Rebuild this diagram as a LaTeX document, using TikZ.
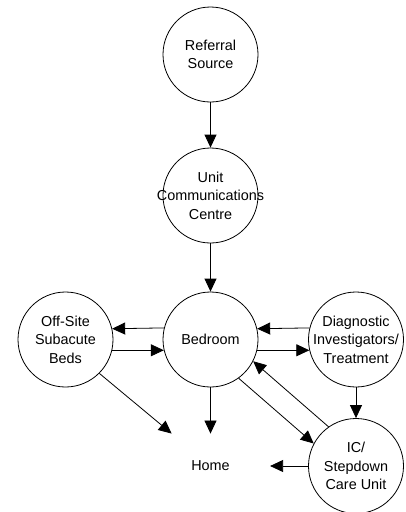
\documentclass[tikz,border=0pt]{standalone}
\usepackage{fontspec}
\setmainfont{Liberation Sans}
\usetikzlibrary{arrows.meta}

\begin{document}
\begin{tikzpicture}[x=1pt, y=-1pt, line width=0.8pt,
    every node/.style={font=\fontsize{14.4}{18.5}\selectfont},
    every label/.style={align=center},
    state/.style={draw, circle, minimum size=95pt, inner sep=0pt},
    arrow/.style={-{Triangle[length=13pt, width=12pt]}}]
      \useasboundingbox (0,0) rectangle (405,512);
      \node[state, label=center:{Referral\\Source}] (referral) at (210.5,54.5) {};
      \node[state, label=center:{Unit\\Communications\\Centre}] (unit) at (210.5,195.5) {};
      \node[state, label=center:{Bedroom}] (bedroom) at (210.5,339.5) {};
      \node[state, label=center:{Off-Site\\Subacute\\Beds}] (offsite) at (65.5,339.5) {};
      \node[state, label=center:{Diagnostic\\Investigators/\\Treatment}] (diagnostic) at (356,339.5) {};
      \node[state, label=center:{IC/\\Stepdown\\Care Unit}] (ic) at (356,466) {};
      \node[inner xsep=40pt, inner ysep=27pt] (home) at (210.5,466) {Home};
      \draw[arrow] (referral) -- (unit);
      \draw[arrow] (unit) -- (bedroom);
      \draw[arrow] (bedroom.166.6) -- (offsite.13.4);
      \draw[arrow] (offsite.-13.4) -- (bedroom.193.4);
      \draw[arrow] (diagnostic.166.6) -- (bedroom.13.4);
      \draw[arrow] (bedroom.-13.4) -- (diagnostic.193.4);
      \draw[arrow] (diagnostic) -- (ic);
      \draw[arrow] (bedroom.-54.3) -- (ic.152.4);
      \draw[arrow] (ic.125.7) -- (bedroom.-27.6);
      \draw[arrow] (ic) -- (home);
      \draw[arrow] (bedroom) -- (home);
      \draw[arrow] (offsite.-45) -- (home);
    \end{tikzpicture}
\end{document}
